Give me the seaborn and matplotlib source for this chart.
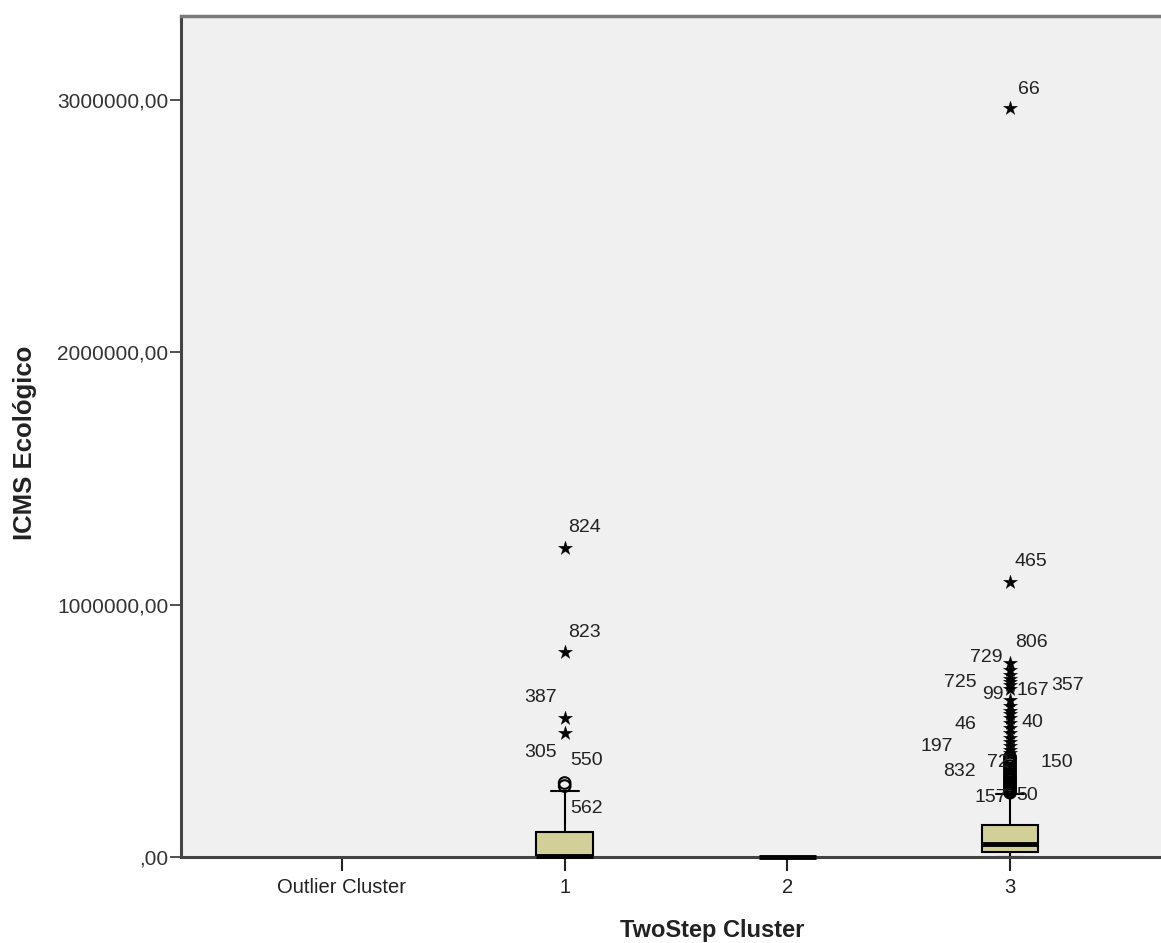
import matplotlib
matplotlib.use("Agg")
import matplotlib.pyplot as plt
import seaborn as sns
import pandas as pd
from matplotlib.ticker import FuncFormatter

# ---------------- data ----------------
categories = ["Outlier Cluster", "1", "2", "3"]

# box statistics per drawn cluster (values in ICMS units)
box_pos   = [1, 2, 3]
box_q1    = [0, 0, 0.020e6]
box_med   = [5000, 0, 0.050e6]
box_q3    = [0.099e6, 0, 0.127e6]
box_wlo   = [0, 0, 0]
box_whi   = [0.261e6, 0, 0.250e6]

# outliers (circles) and extremes (stars)
c1_circles = [0.281e6, 0.293e6]
c1_stars   = [0.490e6, 0.550e6, 0.810e6, 1.225e6]
c3_circles = [0.255e6, 0.262e6, 0.268e6, 0.275e6, 0.282e6, 0.290e6, 0.297e6,
              0.305e6, 0.312e6, 0.320e6, 0.330e6, 0.340e6, 0.350e6, 0.360e6,
              0.370e6, 0.380e6, 0.390e6, 0.396e6]
c3_stars   = [0.410e6, 0.425e6, 0.440e6, 0.455e6, 0.470e6, 0.490e6, 0.510e6,
              0.530e6, 0.550e6, 0.565e6, 0.580e6, 0.600e6, 0.620e6, 0.665e6,
              0.680e6, 0.695e6, 0.705e6, 0.720e6, 0.740e6, 0.770e6,
              1.090e6, 2.965e6]

# case-number labels: text, x (category units), y
lab_text = ["824", "823", "387", "305", "550", "562",
            "66", "465", "806", "729", "725", "99", "167", "357", "46", "40",
            "197", "72", "150", "832", "157", "50"]
lab_x = [1.09, 1.09, 0.892, 0.892, 1.099, 1.099,
         3.085, 3.094, 3.094, 2.892, 2.775, 2.924, 3.103, 3.26, 2.80, 3.099,
         2.672, 2.946, 3.21, 2.775, 2.915, 3.076]
lab_y = [1.307e6, 0.891e6, 0.630e6, 0.412e6, 0.384e6, 0.194e6,
         3.038e6, 1.172e6, 0.848e6, 0.792e6, 0.693e6, 0.642e6, 0.661e6, 0.681e6,
         0.523e6, 0.531e6, 0.436e6, 0.376e6, 0.376e6, 0.337e6, 0.234e6, 0.242e6]

yticks = [0, 1000000, 2000000, 3000000]

# ---------------- style ----------------
sns.set_theme(style="white")
plt.rcParams["font.family"] = ["Liberation Sans", "DejaVu Sans"]

fig = plt.figure(figsize=(11.61, 9.43), dpi=100)
ax = fig.add_axes([181 / 1161, 1 - 857 / 943, 1 - 181 / 1161, (857 - 16) / 943])
ax.set_facecolor("#F0F0F0")

box_color = "#D3CF98"
stats = []
for i in range(len(box_pos)):
    stats.append(dict(med=box_med[i], q1=box_q1[i], q3=box_q3[i],
                      whislo=box_wlo[i], whishi=box_whi[i], fliers=[]))
arts = ax.bxp(stats, positions=box_pos, widths=0.255, patch_artist=True,
              showfliers=False,
              boxprops=dict(facecolor=box_color, edgecolor="black", linewidth=1.5),
              medianprops=dict(color="black", linewidth=3.5),
              whiskerprops=dict(color="black", linewidth=1.5),
              capprops=dict(color="black", linewidth=1.5),
              capwidths=0.125)
for ln in arts["medians"]:
    ln.set_clip_on(False)
    ln.set_zorder(5)

# outliers via seaborn
df_c = pd.DataFrame({"x": [1] * len(c1_circles) + [3] * len(c3_circles),
                     "y": c1_circles + c3_circles})
df_s = pd.DataFrame({"x": [1] * len(c1_stars) + [3] * len(c3_stars),
                     "y": c1_stars + c3_stars})
sns.scatterplot(data=df_c, x="x", y="y", ax=ax, marker="o", s=70,
                facecolor="none", edgecolor="black", linewidth=1.5, zorder=4)
sns.scatterplot(data=df_s, x="x", y="y", ax=ax, marker="*", s=115,
                color="black", edgecolor="black", linewidth=0.2, zorder=4)

for t, x, y in zip(lab_text, lab_x, lab_y):
    ax.text(x, y, t, fontsize=14, color="#222222", ha="center", va="center",
            zorder=5)

# axes
ax.set_xlim(-0.723, 3.678)
ax.set_ylim(0, 3.331e6)
ax.set_xticks(range(len(categories)))
ax.set_xticklabels(categories, fontsize=14.5, color="#222222")
ax.set_yticks(yticks)
ax.yaxis.set_major_formatter(FuncFormatter(
    lambda v, p: ",00" if v == 0 else f"{int(v)},00"))
ax.tick_params(axis="y", labelsize=15, colors="#333333", length=8, width=1.2,
               direction="out", left=True, pad=1)
ax.tick_params(axis="x", length=10, width=1.5, direction="out", bottom=True,
               pad=5, colors="#222222")

for s in ["left", "bottom"]:
    ax.spines[s].set_color("#444444")
    ax.spines[s].set_linewidth(2.2)
ax.spines["top"].set_color("#7a7a7a")
ax.spines["top"].set_linewidth(2.5)
ax.spines["right"].set_visible(False)

ax.set_xlabel("")
ax.set_ylabel("")
fig.text(712 / 1161, 1 - 930 / 943, "TwoStep Cluster", fontsize=17,
         fontweight="bold", ha="center", va="center", color="#222222")
fig.text(25 / 1161, 1 - 443 / 943, "ICMS Ecológico", fontsize=18.5,
         fontweight="bold", ha="center", va="center", rotation=90,
         color="#222222")

fig.savefig("out.png", dpi=100)
